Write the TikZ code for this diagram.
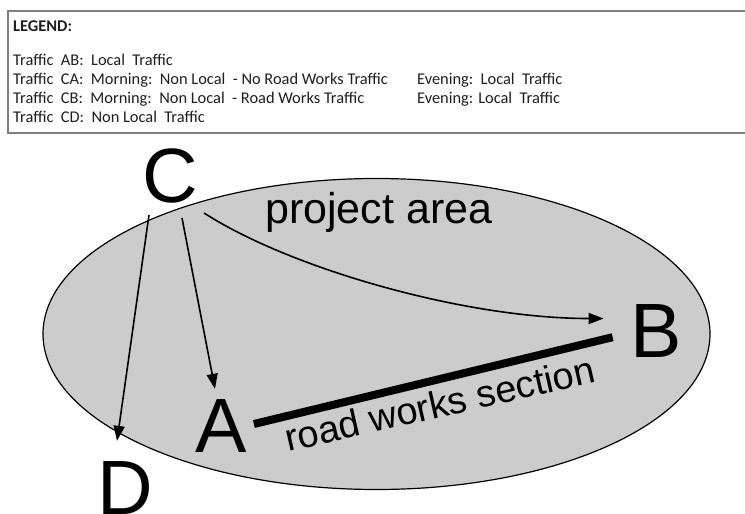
\documentclass[tikz,border=0pt]{standalone}
\usepackage{fontspec}
\setmainfont{Carlito}
\newfontfamily\arialf{Liberation Sans}
\usetikzlibrary{arrows.meta,calc}
\definecolor{areagray}{RGB}{204,204,204}
\definecolor{boxgray}{RGB}{128,128,128}
\definecolor{legendink}{RGB}{30,30,30}
\tikzset{
  bigletter/.style={inner sep=0pt, font=\arialf\fontsize{77}{77}\selectfont},
  legendtext/.style={inner sep=0pt, anchor=base west, text=legendink, font=\fontsize{16.4}{19}\selectfont},
  flow/.style={line width=1.6pt, -{Triangle[length=15pt,width=11pt]}},
  roadline/.style={line width=8pt},
}
\begin{document}
\begin{tikzpicture}[x=1pt,y=-1pt]
\useasboundingbox (0,0) rectangle (745,514);
% legend
\draw[boxgray, line width=2pt] (8,11) rectangle (752,133);
\node[legendtext, font=\fontsize{16.4}{19}\selectfont\bfseries] (lg) at (13,31) {LEGEND:};
\node[legendtext] (l1) at (13,65) {Traffic\ \ AB:\ \ Local\ \ Traffic};
\node[legendtext] (l2) at (13,84) {Traffic\ \ CA:\ \ Morning:\ \ Non Local\ \ - No Road Works Traffic};
\node[legendtext] (l2e) at (417,84) {Evening:\ \ Local\ \ Traffic};
\node[legendtext] (l3) at (13,103) {Traffic\ \ CB:\ \ Morning:\ \ Non Local\ \ - Road Works Traffic};
\node[legendtext] (l3e) at (417,103) {Evening: Local\ \ Traffic};
\node[legendtext] (l4) at (13,122) {Traffic\ \ CD:\ \ Non Local\ \ Traffic};
% project area
\draw[fill=areagray, line width=1.2pt] (376.5,334) ellipse [x radius=333.5pt, y radius=155.5pt];
\node[inner sep=0pt, anchor=base west, font=\arialf\fontsize{43}{43}\selectfont] (pa) at (265,223) {project area};
% letters
\node[bigletter, anchor=base] (C) at (170,202) {C};
\node[bigletter, anchor=base] (A) at (221,452) {A};
\node[bigletter, anchor=base] (B) at (656.5,357) {B};
\node[bigletter, anchor=base] (D) at (125,514) {D};
% road works
\draw[roadline] ($(A.east)+(7,-1.5)$) -- ($(B.south west)+(-18,-20)$);
\node[inner sep=0pt, anchor=base west, rotate=12.8, font=\arialf\fontsize{38}{38}\selectfont] (rw) at (288,452) {road works section};
% flows
\draw[flow] ($(C.south)+(-21,12)$) -- ($(D.north)+(-8,-20)$);
\draw[flow] ($(C.south)+(12,15)$) -- ($(A.north)+(-6,-10)$);
\draw[flow] ($(C.south)+(34,10)$) .. controls +(85,55) and +(-140,0) .. ($(B.west)+(-27,-12)$);
\end{tikzpicture}
\end{document}
